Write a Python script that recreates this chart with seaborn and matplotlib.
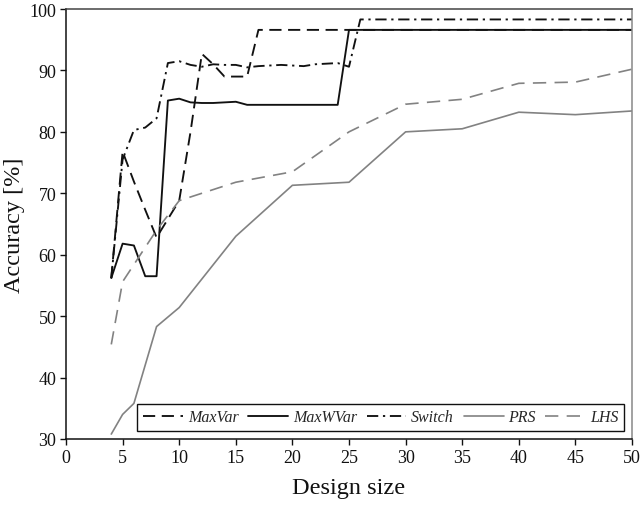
import matplotlib
matplotlib.use("Agg")
import matplotlib.pyplot as plt
import seaborn as sns
import pandas as pd

# Accuracy versus design size for the five sampling strategies
maxvar_x = [4, 5, 6, 7, 8, 9, 10, 11, 12, 13, 14, 15, 16, 17, 50]
maxvar_y = [56.2, 76.8, 71.9, 67.3, 62.8, 65.8, 68.8, 80.0, 92.7, 91.0, 89.0, 89.0, 89.0, 96.6, 96.6]

maxwvar_x = [4, 5, 6, 7, 8, 9, 10, 11, 12, 13, 14, 15, 16, 24, 25, 50]
maxwvar_y = [56.2, 61.8, 61.5, 56.5, 56.5, 85.1, 85.4, 84.8, 84.7, 84.7, 84.8, 84.9, 84.4, 84.4, 96.6, 96.6]

switch_x = [4, 5, 6, 7, 8, 9, 10, 11, 12, 13, 14, 15, 16, 17, 18, 19, 20, 21, 22, 23, 24, 25, 26, 50]
switch_y = [56.2, 75.5, 80.3, 80.7, 82.2, 91.2, 91.5, 90.9, 90.6, 91.0, 90.9, 90.9, 90.5, 90.7,
            90.8, 90.9, 90.8, 90.7, 91.0, 91.1, 91.2, 90.6, 98.3, 98.3]

prs_x = [4, 5, 6, 8, 10, 15, 20, 25, 30, 35, 40, 45, 50]
prs_y = [30.8, 34.0, 35.8, 48.3, 51.4, 63.0, 71.3, 71.8, 80.0, 80.5, 83.2, 82.8, 83.4]

lhs_x = [4, 5, 8, 10, 15, 20, 25, 30, 35, 40, 45, 50]
lhs_y = [45.4, 55.6, 64.0, 68.8, 71.8, 73.5, 80.0, 84.5, 85.3, 87.9, 88.1, 90.2]

x_ticks = [0, 5, 10, 15, 20, 25, 30, 35, 40, 45, 50]
y_ticks = [30, 40, 50, 60, 70, 80, 90, 100]

sns.set_theme(style="ticks")
plt.rcParams["font.family"] = ["Liberation Serif", "DejaVu Serif"]

fig = plt.figure(figsize=(6.44, 5.06), dpi=100)
ax = fig.add_axes([66 / 644, 1 - 440 / 506, (632 - 66) / 644, (440 - 10) / 506])

black = "#111111"
gray = "#828282"
series = [
    ("MaxVar", maxvar_x, maxvar_y, black, (0, (6.5, 3.5)), 1.35),
    ("MaxWVar", maxwvar_x, maxwvar_y, black, "-", 1.35),
    ("Switch", switch_x, switch_y, black, (0, (6, 2.5, 1.2, 2.5)), 1.35),
    ("PRS", prs_x, prs_y, gray, "-", 1.2),
    ("LHS", lhs_x, lhs_y, gray, (0, (8, 5)), 1.2),
]

for name, xs, ys, col, ls, lw in series:
    df = pd.DataFrame({"Design size": xs, "Accuracy": ys})
    sns.lineplot(data=df, x="Design size", y="Accuracy", ax=ax, color=col,
                 linestyle=ls, linewidth=lw, label=name, errorbar=None, sort=True)

ax.set_xlim(0, 50)
ax.set_ylim(30, 100)
ax.set_xticks(x_ticks)
ax.set_yticks(y_ticks)
ax.tick_params(axis="both", direction="out", length=4, width=1.0, labelsize=13,
               colors="#111111", pad=3)
ax.set_xlabel("Design size", fontsize=17.5, labelpad=8, color="#111111")
ax.set_ylabel("Accuracy [%]", fontsize=17.5, labelpad=3, color="#111111")

for side in ["left", "bottom"]:
    ax.spines[side].set_color("#111111")
    ax.spines[side].set_linewidth(1.1)
ax.spines["top"].set_visible(True)
ax.spines["right"].set_visible(True)
ax.spines["top"].set_color("#444444")
ax.spines["top"].set_linewidth(1.1)
ax.spines["right"].set_color("#888888")
ax.spines["right"].set_linewidth(1.1)

handles, labels = ax.get_legend_handles_labels()
leg = ax.legend(handles, labels, ncol=5, loc="lower right",
                bbox_to_anchor=(0.986, 0.019), borderaxespad=0, frameon=True,
                fancybox=False, edgecolor="#111111", framealpha=1, handlelength=2.5,
                handletextpad=0.3, columnspacing=0.6, borderpad=0.35,
                prop={"family": ["Liberation Serif"], "style": "italic", "size": 11.5})
leg.get_frame().set_linewidth(1.0)

fig.savefig("out.png", dpi=100, facecolor="white")
